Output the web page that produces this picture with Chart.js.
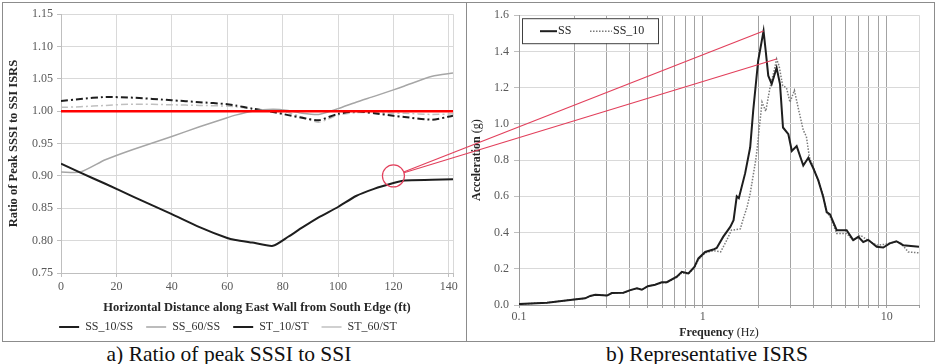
<!DOCTYPE html>
<html>
<head>
<meta charset="utf-8">
<script src="https://cdn.jsdelivr.net/npm/chart.js@4.4.1/dist/chart.umd.min.js"></script>
<style>
  body { margin: 0; width: 938px; height: 364px; background: #fff; position: relative; overflow: hidden; font-family: "Liberation Serif", "DejaVu Serif", serif; }
  .panel { position: absolute; border: 1px solid #8c8c8c; }
  #panelA { left: 2px; top: 2px; width: 463px; height: 338px; }
  #panelB { left: 466px; top: 2px; width: 467px; height: 338px; }
  .caption { position: absolute; top: 342px; font-size: 21.5px; line-height: 24px; color: #111; white-space: nowrap; transform: translateX(-50%); }
  #overlay { position: absolute; left: 0; top: 0; pointer-events: none; }
</style>
</head>
<body>
<div class="panel" id="panelA"><canvas id="chartA" width="463" height="338"></canvas></div>
<div class="panel" id="panelB"><canvas id="chartB" width="467" height="338"></canvas></div>
<div class="caption" style="left:229px">a) Ratio of peak SSSI to SSI</div>
<div class="caption" style="left:707px">b) Representative ISRS</div>
<canvas id="overlay" width="938" height="364"></canvas>
<script>
// a) ratio of peak SSSI to SSI ISRS along the east wall
const distanceFt = [0, 7, 16, 26, 40, 50, 60, 63, 69, 76.5, 82, 87, 93, 100, 106.5, 113, 120, 124, 134, 141.5];
const ss10OverSS = [0.919, 0.905, 0.888, 0.868, 0.841, 0.821, 0.804, 0.801, 0.797, 0.792, 0.806, 0.820, 0.836, 0.852, 0.869, 0.880, 0.889, 0.893, 0.894, 0.895];
const ss60OverSS = [0.906, 0.906, 0.925, 0.941, 0.961, 0.976, 0.990, 0.994, 1.000, 1.003, 1.001, 0.997, 0.995, 1.004, 1.014, 1.023, 1.033, 1.039, 1.054, 1.059];
const st10OverST = [1.016, 1.019, 1.022, 1.021, 1.017, 1.014, 1.011, 1.009, 1.004, 0.999, 0.994, 0.990, 0.986, 0.996, 1.000, 0.997, 0.993, 0.991, 0.987, 0.993];
const st60OverST = [1.006, 1.007, 1.009, 1.011, 1.010, 1.009, 1.008, 1.007, 1.004, 1.001, 0.998, 0.991, 0.983, 0.994, 0.998, 0.998, 0.997, 0.997, 0.995, 0.996];
const distTicks = [0, 20, 40, 60, 80, 100, 120, 140];
const distMax = 141.5;
const ratioTicks = [0.75, 0.80, 0.85, 0.90, 0.95, 1.00, 1.05, 1.10, 1.15];
const refRatio = 1.0;

// b) representative ISRS
const freqSS = [0.1, 0.142, 0.2, 0.229, 0.244, 0.26, 0.301, 0.32, 0.37, 0.403, 0.438, 0.466, 0.502, 0.55, 0.598, 0.637, 0.722, 0.769, 0.835, 0.9, 0.946, 1.03, 1.14, 1.19, 1.29, 1.41, 1.47, 1.53, 1.57, 1.70, 1.81, 1.88, 2.0, 2.14, 2.2, 2.27, 2.37, 2.52, 2.63, 2.73, 2.92, 3.05, 3.24, 3.52, 3.75, 3.99, 4.25, 4.52, 4.72, 4.92, 5.35, 6.06, 6.58, 7.01, 7.46, 7.94, 8.83, 9.59, 10.4, 11.3, 12.3, 15];
const accSS = [0.005, 0.013, 0.031, 0.037, 0.05, 0.056, 0.052, 0.066, 0.068, 0.082, 0.092, 0.084, 0.104, 0.112, 0.125, 0.126, 0.156, 0.183, 0.174, 0.21, 0.257, 0.293, 0.306, 0.315, 0.376, 0.431, 0.468, 0.6, 0.59, 0.728, 0.871, 1.073, 1.348, 1.513, 1.40, 1.266, 1.22, 1.31, 1.22, 0.98, 0.943, 0.85, 0.877, 0.77, 0.813, 0.755, 0.688, 0.596, 0.513, 0.50, 0.413, 0.413, 0.358, 0.376, 0.348, 0.36, 0.321, 0.317, 0.34, 0.352, 0.33, 0.321];
const freqSS10 = [0.1, 0.142, 0.2, 0.229, 0.244, 0.26, 0.301, 0.32, 0.37, 0.403, 0.438, 0.466, 0.502, 0.55, 0.598, 0.637, 0.722, 0.769, 0.835, 0.9, 0.946, 1.03, 1.14, 1.25, 1.35, 1.43, 1.60, 1.66, 1.74, 1.81, 1.94, 1.97, 2.02, 2.1, 2.2, 2.32, 2.45, 2.52, 2.6, 2.72, 2.85, 2.98, 3.15, 3.3, 3.52, 3.66, 3.8, 4.25, 4.5, 4.72, 4.92, 5.35, 6.06, 6.58, 7.2, 7.94, 8.83, 9.8, 11.3, 12.0, 13.1, 15];
const accSS10 = [0.005, 0.013, 0.031, 0.037, 0.05, 0.056, 0.052, 0.066, 0.068, 0.082, 0.092, 0.084, 0.104, 0.112, 0.122, 0.124, 0.152, 0.178, 0.172, 0.205, 0.25, 0.288, 0.3, 0.293, 0.358, 0.413, 0.42, 0.477, 0.54, 0.615, 0.80, 0.853, 0.96, 1.12, 1.07, 1.2, 1.30, 1.358, 1.32, 1.21, 1.2, 1.12, 1.185, 1.09, 0.965, 0.93, 0.816, 0.688, 0.61, 0.51, 0.49, 0.395, 0.395, 0.356, 0.385, 0.356, 0.33, 0.335, 0.35, 0.34, 0.293, 0.288];
const freqGrid = [0.1, 0.2, 0.3, 0.4, 0.5, 0.6, 0.7, 0.8, 0.9, 1, 2, 3, 4, 5, 6, 7, 8, 9, 10, 15];
const freqLabels = [0.1, 1, 10];
const freqMax = 15;
const accTicks = [0, 0.2, 0.4, 0.6, 0.8, 1.0, 1.2, 1.4, 1.6];

// circled point on a) that is tied to the peaks on b)
const calloutAt = [120, 0.90];

const serif = "'Liberation Serif', 'DejaVu Serif', serif";
const pts = (xs, ys) => xs.map((x, i) => ({ x: x, y: ys[i] }));

const chartA = new Chart(document.getElementById('chartA'), {
  type: 'line',
  data: {
    datasets: [
      { label: 'SS_10/SS', data: pts(distanceFt, ss10OverSS), borderColor: '#1e1e1e', borderWidth: 2 },
      { label: 'SS_60/SS', data: pts(distanceFt, ss60OverSS), borderColor: '#a6a6a6', borderWidth: 1.5 },
      { label: 'ST_10/ST', data: pts(distanceFt, st10OverST), borderColor: '#1e1e1e', borderWidth: 2, borderDash: [7, 3, 2, 3] },
      { label: 'ST_60/ST', data: pts(distanceFt, st60OverST), borderColor: '#c0c0c0', borderWidth: 1.5, borderDash: [7, 3, 2, 3] },
      { label: 'ref', data: [{ x: 0, y: refRatio }, { x: distMax, y: refRatio }], borderColor: '#ff0000', borderWidth: 2.5, order: -1 }
    ]
  },
  options: {
    responsive: false,
    animation: false,
    devicePixelRatio: 1,
    elements: { point: { radius: 0 }, line: { tension: 0.2 } },
    layout: { padding: { left: 0, top: 9, right: 13, bottom: 0 } },
    plugins: {
      tooltip: { enabled: false },
      legend: {
        position: 'bottom',
        maxHeight: 33,
        labels: {
          filter: item => item.text !== 'ref',
          usePointStyle: true, pointStyle: 'line', pointStyleWidth: 20,
          padding: 13, color: '#333', font: { family: serif, size: 12 }
        }
      }
    },
    scales: {
      x: {
        type: 'linear', min: 0, max: distMax,
        afterBuildTicks: s => { s.ticks = distTicks.concat([distMax]).map(v => ({ value: v })); },
        afterFit: s => { s.height = 35; },
        ticks: { autoSkip: false, maxRotation: 0, padding: 3, color: '#595959', font: { family: serif, size: 12 },
                 callback: v => distTicks.includes(v) ? String(v) : '' },
        grid: { color: '#d9d9d9', tickLength: 4, tickColor: '#bfbfbf' },
        border: { color: '#bfbfbf' },
        title: { display: true, text: 'Horizontal Distance along East Wall from South Edge (ft)', color: '#262626',
                 font: { family: serif, size: 12.5, weight: 'bold' }, padding: { top: 0, bottom: -7 } }
      },
      y: {
        min: 0.75, max: 1.15,
        afterBuildTicks: s => { s.ticks = ratioTicks.map(v => ({ value: v })); },
        afterFit: s => { s.width = 58; },
        ticks: { padding: 4, color: '#595959', font: { family: serif, size: 12 }, callback: v => v.toFixed(2) },
        grid: { color: '#d9d9d9', tickLength: 4, tickColor: '#bfbfbf' },
        border: { color: '#bfbfbf' },
        title: { display: true, text: 'Ratio of Peak SSSI to SSI ISRS', color: '#262626',
                 font: { family: serif, size: 12.5, weight: 'bold' }, padding: { top: 3, bottom: 0 } }
      }
    }
  }
});

// axis titles with a bold word and a plain unit, plus the boxed legend
function mixedText(ctx, parts, cx, cy, rot) {
  ctx.save();
  ctx.translate(cx, cy);
  ctx.rotate(rot);
  ctx.textBaseline = 'middle';
  let total = 0;
  parts.forEach(p => { ctx.font = p[1] + ' 12px ' + serif; total += ctx.measureText(p[0]).width; });
  let x = -total / 2;
  parts.forEach(p => {
    ctx.font = p[1] + ' 12px ' + serif;
    ctx.fillStyle = '#262626';
    ctx.fillText(p[0], x, 0);
    x += ctx.measureText(p[0]).width;
  });
  ctx.restore();
}

const isrsDecor = {
  id: 'isrsDecor',
  afterDraw(chart) {
    const { ctx, chartArea: a } = chart;
    mixedText(ctx, [['Frequency', 'bold'], [' (Hz)', 'normal']], (a.left + a.right) / 2, 330, 0);
    mixedText(ctx, [['Acceleration', 'bold'], [' (g)', 'normal']], 10, (a.top + a.bottom) / 2, -Math.PI / 2);

    const x0 = a.left + 3, y0 = a.top + 3, w = 136, h = 25, yc = y0 + 13;
    ctx.save();
    ctx.fillStyle = '#fff';
    ctx.fillRect(x0, y0, w, h);
    ctx.strokeStyle = '#404040';
    ctx.lineWidth = 1;
    ctx.strokeRect(x0 + 0.5, y0 + 0.5, w, h);
    chart.data.datasets.forEach((ds, i) => {
      const lx = x0 + (i === 0 ? 18 : 68), lw = i === 0 ? 17 : 22;
      ctx.strokeStyle = ds.borderColor;
      ctx.lineWidth = ds.borderWidth;
      ctx.setLineDash(ds.borderDash || []);
      ctx.beginPath(); ctx.moveTo(lx, yc); ctx.lineTo(lx + lw, yc); ctx.stroke();
      ctx.setLineDash([]);
      ctx.fillStyle = '#262626';
      ctx.font = '12px ' + serif;
      ctx.textBaseline = 'middle';
      ctx.fillText(ds.label, lx + lw + 1, yc);
    });
    ctx.restore();
  }
};

const chartB = new Chart(document.getElementById('chartB'), {
  type: 'line',
  data: {
    datasets: [
      { label: 'SS', data: pts(freqSS, accSS), borderColor: '#1e1e1e', borderWidth: 2 },
      { label: 'SS_10', data: pts(freqSS10, accSS10), borderColor: '#7a7a7a', borderWidth: 1.5, borderDash: [1.5, 1.5] }
    ]
  },
  options: {
    responsive: false,
    animation: false,
    devicePixelRatio: 1,
    elements: { point: { radius: 0 }, line: { tension: 0 } },
    layout: { padding: { left: 0, top: 11, right: 15, bottom: 0 } },
    plugins: { tooltip: { enabled: false }, legend: { display: false } },
    scales: {
      x: {
        type: 'logarithmic', min: 0.1, max: freqMax,
        afterBuildTicks: s => { s.ticks = freqGrid.map(v => ({ value: v })); },
        afterFit: s => { s.height = 36; },
        ticks: { autoSkip: false, maxRotation: 0, padding: 2, color: '#595959', font: { family: serif, size: 12 },
                 callback: v => freqLabels.includes(v) ? String(v) : '' },
        grid: { color: c => c.tick && c.tick.value === freqMax ? '#d9d9d9' : '#a3a3a3', tickLength: 3, tickColor: '#a3a3a3' },
        border: { color: '#9a9a9a' }
      },
      y: {
        min: 0, max: 1.6,
        afterBuildTicks: s => { s.ticks = accTicks.map(v => ({ value: v })); },
        afterFit: s => { s.width = 52; },
        ticks: { padding: 5, color: '#595959', font: { family: serif, size: 12 }, callback: v => v.toFixed(1) },
        grid: { color: '#d9d9d9', tickLength: 5, tickColor: '#bfbfbf' },
        border: { color: '#9a9a9a' }
      }
    }
  },
  plugins: [isrsDecor]
});

// red callout: circle on a) and lines out to the peak of each curve on b)
(() => {
  const ov = document.getElementById('overlay').getContext('2d');
  const ra = chartA.canvas.getBoundingClientRect();
  const rb = chartB.canvas.getBoundingClientRect();
  const cx = ra.left + chartA.scales.x.getPixelForValue(calloutAt[0]);
  const cy = ra.top + chartA.scales.y.getPixelForValue(calloutAt[1]);
  const r = 11;
  ov.strokeStyle = '#e2405c';
  ov.lineWidth = 1.2;
  ov.beginPath(); ov.arc(cx, cy, r, 0, Math.PI * 2); ov.stroke();
  [[freqSS, accSS], [freqSS10, accSS10]].forEach(([f, acc]) => {
    const i = acc.indexOf(Math.max(...acc));
    const px = rb.left + chartB.scales.x.getPixelForValue(f[i]);
    const py = rb.top + chartB.scales.y.getPixelForValue(acc[i]);
    const ang = Math.atan2(py - cy, px - cx);
    ov.beginPath();
    ov.moveTo(cx + r * Math.cos(ang), cy + r * Math.sin(ang));
    ov.lineTo(px, py);
    ov.stroke();
  });
})();
</script>
</body>
</html>
